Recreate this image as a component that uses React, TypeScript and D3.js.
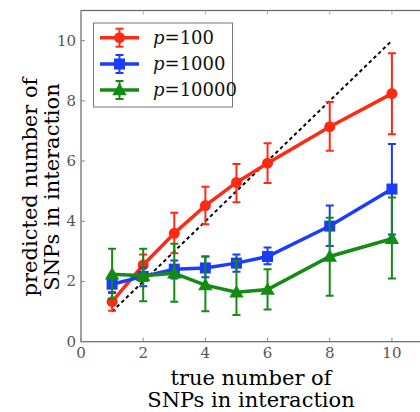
import React from "react";
import * as d3 from "d3";

// true number of SNPs (x) and predicted values per series
const trueSnps = [1, 2, 3, 4, 5, 6, 8, 10];

const p100Mean = [1.33, 2.55, 3.6, 4.52, 5.29, 5.93, 7.14, 8.24];
const p100Low = [1.03, 2.2, 2.94, 3.9, 4.63, 5.27, 6.34, 6.89];
const p100High = [1.65, 2.9, 4.28, 5.15, 5.9, 6.59, 7.96, 9.58];

const p1000Mean = [1.91, 2.17, 2.41, 2.45, 2.61, 2.83, 3.84, 5.07];
const p1000Low = [1.62, 1.84, 2.1, 2.14, 2.32, 2.57, 3.18, 3.56];
const p1000High = [2.2, 2.46, 2.7, 2.83, 2.9, 3.13, 4.52, 6.57];

const p10000Mean = [2.24, 2.19, 2.27, 1.88, 1.64, 1.73, 2.83, 3.42];
const p10000Low = [1.42, 1.34, 1.33, 1.01, 0.89, 1.07, 1.53, 2.1];
const p10000High = [3.09, 3.09, 3.25, 2.83, 2.68, 2.41, 4.12, 4.79];

const xTicks = [0, 2, 4, 6, 8, 10];
const yTicks = [0, 2, 4, 6, 8, 10];
const idealLine = [1, 10];

const series = [
  { name: "100", color: "#ff2a14", marker: "circle", mean: p100Mean, low: p100Low, high: p100High },
  { name: "1000", color: "#1a3cff", marker: "square", mean: p1000Mean, low: p1000Low, high: p1000High },
  { name: "10000", color: "#148c14", marker: "triangle", mean: p10000Mean, low: p10000Low, high: p10000High },
];

const W = 420, H = 412;
const left = 81, right = 423, top = 10.5, bottom = 341.7;

const x = d3.scaleLinear().domain([0, 11]).range([left, right]);
const y = d3.scaleLinear().domain([0, 11]).range([bottom, top]);

const serif = "'DejaVu Serif', 'Liberation Serif', serif";

function Marker({ kind, cx, cy, color }: { kind: string; cx: number; cy: number; color: string }) {
  if (kind === "circle") return <circle cx={cx} cy={cy} r={5.5} fill={color} />;
  if (kind === "square") return <rect x={cx - 5.5} y={cy - 5.5} width={11} height={11} fill={color} />;
  const tri = d3.symbol().type(d3.symbolTriangle).size(90)();
  return <path d={tri || ""} transform={`translate(${cx},${cy + 1})`} fill={color} />;
}

function ErrBar({ cx, y1, y2, color }: { cx: number; y1: number; y2: number; color: string }) {
  return (
    <g stroke={color} strokeWidth={2}>
      <line x1={cx} x2={cx} y1={y1} y2={y2} />
      <line x1={cx - 4} x2={cx + 4} y1={y1} y2={y1} />
      <line x1={cx - 4} x2={cx + 4} y1={y2} y2={y2} />
    </g>
  );
}

export default function App() {
  const line = d3.line<number>().x((_, i) => x(trueSnps[i])).y((d) => y(d));
  const legendY = [37.7, 64, 90];

  return (
    <svg width={W} height={H} style={{ position: "absolute", left: 0, top: 0, background: "#fff" }}>
      <defs>
        <clipPath id="plot">
          <rect x={left} y={top} width={right - left} height={bottom - top} />
        </clipPath>
      </defs>

      {/* axes frame */}
      <rect x={left} y={top} width={right - left} height={bottom - top} fill="none" stroke="#666" strokeWidth={1.2} />

      {xTicks.map((t) => (
        <g key={"x" + t}>
          <line x1={x(t)} x2={x(t)} y1={bottom} y2={bottom - 4} stroke="#888" />
          <line x1={x(t)} x2={x(t)} y1={top} y2={top + 4} stroke="#aaa" />
          <text x={x(t)} y={bottom + 16} textAnchor="middle" fontFamily={serif} fontSize={15} fill="#555">
            {t}
          </text>
        </g>
      ))}
      {yTicks.map((t) => (
        <g key={"y" + t}>
          <line x1={left} x2={left + 4} y1={y(t)} y2={y(t)} stroke="#888" />
          <text x={left - 5} y={y(t) + 5} textAnchor="end" fontFamily={serif} fontSize={15} fill="#555">
            {t}
          </text>
        </g>
      ))}

      <g clipPath="url(#plot)">
        <line
          x1={x(idealLine[0])}
          y1={y(idealLine[0])}
          x2={x(idealLine[1])}
          y2={y(idealLine[1])}
          stroke="#000"
          strokeWidth={2}
          strokeDasharray="3.5,3"
        />
        {series.map((s) => (
          <g key={s.name}>
            {trueSnps.map((v, i) => (
              <ErrBar key={i} cx={x(v)} y1={y(s.low[i])} y2={y(s.high[i])} color={s.color} />
            ))}
            <path d={line(s.mean) || ""} fill="none" stroke={s.color} strokeWidth={3.5} />
            {trueSnps.map((v, i) => (
              <Marker key={i} kind={s.marker} cx={x(v)} cy={y(s.mean[i])} color={s.color} />
            ))}
          </g>
        ))}
      </g>

      {/* legend */}
      <rect x={93.5} y={23} width={139} height={84} fill="#fff" stroke="#777" strokeWidth={1} />
      {series.map((s, i) => (
        <g key={"lg" + s.name}>
          <line x1={100} x2={139} y1={legendY[i]} y2={legendY[i]} stroke={s.color} strokeWidth={3.5} />
          <ErrBar cx={119.5} y1={legendY[i] - 9} y2={legendY[i] + 9} color={s.color} />
          <Marker kind={s.marker} cx={119.5} cy={legendY[i]} color={s.color} />
          <text x={153} y={legendY[i] + 6} fontFamily={serif} fontSize={18} fill="#111">
            <tspan fontStyle="italic">p</tspan>=
            {s.name}
          </text>
        </g>
      ))}

      {/* axis labels */}
      <text textAnchor="middle" fontFamily={serif} fontSize={21} fill="#000">
        <tspan x={251} y={385}>true number of</tspan>
        <tspan x={251} y={407}>SNPs in interaction</tspan>
      </text>
      <text textAnchor="middle" fontFamily={serif} fontSize={21} fill="#000" transform="translate(0,187) rotate(-90)">
        <tspan x={0} y={37}>predicted number of</tspan>
        <tspan x={0} y={59}>SNPs in interaction</tspan>
      </text>
    </svg>
  );
}
